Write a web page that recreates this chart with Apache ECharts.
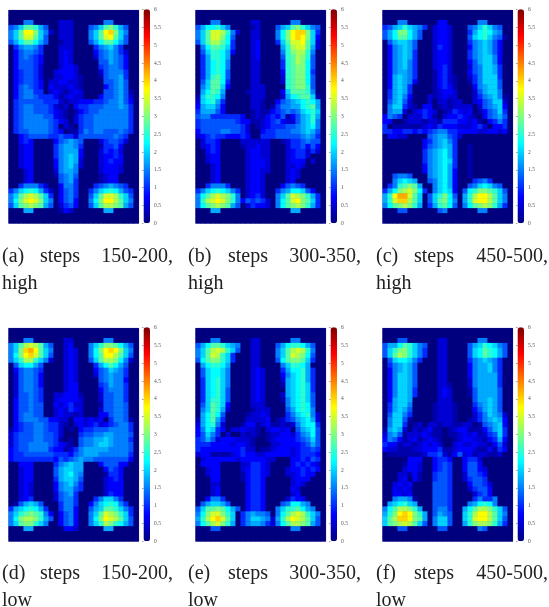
<!DOCTYPE html>
<html><head><meta charset="utf-8">
<style>html,body{margin:0;padding:0;background:#fff}#wrap{position:relative;width:549px;height:607px}#c,#t{position:absolute;left:0;top:0;width:549px;height:607px}#c{filter:blur(0.75px)}</style>
<script src="https://cdn.jsdelivr.net/npm/echarts@6/dist/echarts.min.js"></script>
</head><body><div id="wrap"><div id="c"></div><div id="t"></div></div>
<script>
// each character is one cell: base-36 digit x 0.25 = activation value
const e='00000000000000000000000000';
const panelA=[e,e,
'00066000002220000006600000','568bba750022200056 8bca7500','68bffc862022200068bfgc8600','68beeb850022200068befb8500',
'579bb9750012200057 9bb97500','04677640002220000467864000','03566540002320000356764200','03565430002320000256765300',
'03555430002320000055765300','03555420002332000045665300','03455420023332000025666400','03455420022332100015667400',
'03455430223322100005567500','03565430322232100003567500','03566440232123200005567510','03566544431232200035567520',
'04555554442122333445667530','04566555421203445556667640','04566555432101345566666640','04566665532102455666666640',
'04566666543202455666666640','04566666540210455666666640','04556666543011465665556540','00345555445442555555565400',
'00343000035676500024554200','00233000046776400014453000','00233000046777300024342000','00233000046787300023343000',
'00233000036787200023433000','00233000036786200023332000','00023000026776000023332000','00023000015675000012330000',
'00023000005674000012330000','00466642003664000456765400','46 89a974203564004689a97540','68bdedb84035640058beeda850',
'69cefec86035630069cffdb860','58bcdcb75024530058bddcb750','00077000001320000007700000',e,e];
const panelB=[e,e,
'00066000000220000006600000','5799a86000012000578bca8650','68beeda62002200069cfggc840','68beec950002200069cfgfc830',
'58bddb940002300048beefb820','069bba840002300007adeeb720','058aa9730002300006acdda600','047aa9700002300005abdca500',
'0479a9600002200004abdc9500','0479a9600002200004abcc9500','0479a9500002200003abcc9400','047ab9500002200002abcc9500',
'058bb9400002200002abcc9500','068bb8300002220000abcca500','079ba70000122200038bbba600','18aa9600000222000279abb810',
'289a740000022100356789a970','3788630000022101466779ab70','47775300000121134565689a80','56644444430121343513578a70',
'45555555433112345322578a60','45555555542012344455678960','35555665542003445556678750','23454433343004445555567640',
'02443000022222200124456550','02343000012232200024453530','00343000002332200023442420','00233000002332200023442000',
'00233000002333200023330200','00023000002333200022320000','00023000002332200023200000','00023000002332000023200000',
'00023000002332000023000000','00466640002332000356540000','4689a986402332004679985300','69bdedca6023420068bedca740',
'6adefeca6354542069befcb840','69bcdcb75024332069bcdca740','00077000000000000007700000',e,e];
const panelC=[e,e,
'00066000000330000006600000','4578a876402332000568a86500','579cc975002332000479a97600','579bb975002332000589a86510',
'05788750002332000467875300','03678750002432000367875300','03678740002332000467875300','03678740002332000467886300',
'03678640002332000357886300','03678640002342000256887400','03677640001342000356887400','03787640001342100246888400',
'03787630001342100146888500','03787400001343100036788500','04787400001233200025788600','04786300021232200024678610',
'05785200020221220023568820','06884210330121222202567830','06772023432012432301356840','36540222431023343210356750',
'33001222122144433231034640','40111111232433322234203340','44334434345664433332233230','03322000056775420000000000',
'00000000346786400000000000','00000000356787400100000000','00000000467897400100000000','00000000467897400100000000',
'00000000467898400100000000','00000000367897400100000000','00000000367897300100000000','00566500067897300100000000',
'00689870056897300045640000','046abcb7006897300568986500','479cdec94068983059accba850','7afhheb8058ac9507adffdb860',
'7aeggdb8058bc9607aeffdb860','69bcdca7047ab95069bcdca740','00055000000560000006600000',e,e];
const panelD=[e,e,
'00066000000220000006600000','68bdedb75002300068accb9750','68cghfb86002320069cfgfc860','69cfgeb85002320069bffdb850',
'68adda862002320058bddc9620','05899750000232000479b97500','03566540000232000356876400','02566530000232000256766400',
'02566530000232000056766300','02566530000233000045766400','02566540000233000035666400','02556540022333100025566400',
'03556540023333200025566400','03556550032342200015566500','03556550023243200025566500','03566550023221200033566500',
'03566655332203323230466510','03455665442102323423456640','13455665442010344555666640','24555665542000455667766650',
'24555665541010566778766640','24556666543210566788766650','34556666433124677777666650','34455555544435677766666640',
'34444444435456766555555530','00333000046787700035553300','00233000057887700003543000','00233000057897600001443000',
'00233000047887500002343000','00232000036786400002333000','00232000036775400002333000','00232000025674000002433000',
'00234000025664000468864000','01578750004664003689a96400','4789a97400466300578bba8640','68abcba63035630068bedca840',
'69cddca75035630069cfedb850','68bcca860035630068adca9750','00077000000332000007700000',e,e];
const panelE=[e,e,
'00066000000220000006600000','579bba8760022000579aa97500','68bdeda85002200068bdeda600','68beda840002200068bedc9500',
'59bcca840002200059bccb8400','079aa97000022000068aa97000','058998600002320004799a7400','058998600002320003689a7400',
'0489a8600002320002789a7400','0489a8600002320001789a8400','0489a8500002320000789a8400','0489a8500002320002789a8500',
'048aa8500002320001689a8500','058ba8300002220000689a9500','068ba7200001222000579a9600','079b950000122320004689a620',
'179b7400002222301245789720','279a6200013312311212689940','36984302232210233230578950','35864020021210122332467950',
'45752333222100123333456850','44433332332100022333345750','43333333342201123332344540','23311112343322333332344430',
'02333333233333220003343540','03333000022443200003434320','00233000023443200023343430','00233000013443200022343300',
'00033000013443000002333000','00022000003443000002320000','00023000003443000003200000','00023000003443000002300000',
'00366400003443000024330000','05788750003443000569976000','58bbcb975034430068aab97600','69ceeca80467665069bdeda860',
'7adfgeb8046887627adfedb850','69bdeca70467764269bddcb750','00055000000000000006600000',e,e];
const panelF=[e,e,
'00055000000220000006600000','5779ba86500220000578a98650','58acca86400220000589ba9750','58bdca86400220000589ba9750',
'05899864000220000467876400','04678750000220000367786400','03678750000220000367786400','03688750000220000367777400',
'03688750000220000267777400','03688750000221000267777400','03688740000232000157777500','03688740000232000157777500',
'03788700000222000057787500','04788600001222100046787500','04787500001222100035787500','05886400001222100024687620',
'06885100001222100124678730','06884012022122112201567830','17872021231101233111357840','26751222321101123231245840',
'36531231232100123322134730','43312212323200232232213520','32211122333411233321131430','01111111244521352312211200',
'00000333003443003442000000','00001332003454003553000000','00002332003454003553200000','00022131004554002554300000',
'00023031004554002455400000','00232300005554000355420000','00323200005554000245530000','00332300005554000024530000',
'00677610005554000046446000','0789a870005554000679a96000','69bddca70056640079bddca850','7acfgfca705765008adffdb860',
'8bdggfcb706885008aeffdb850','8bcdedb8506885007acddca740','00055000000550000006500000',e,e];

const panels=[panelA,panelB,panelC,panelD,panelE,panelF];
const labels=['(a)','(b)','(c)','(d)','(e)','(f)'];
const steps=['150-200,','300-350,','450-500,','150-200,','300-350,','450-500,'];
const levels=['high','high','high','low','low','low'];
const jet=['#00007f','#0000ff','#007fff','#00ffff','#7fff7f','#ffff00','#ff7f00','#ff0000','#7f0000'];
const panelLeft=[8.7,195.7,382.7], barLeft=[143.5,330.5,517.5], rowTop=[10.3,328.3];
const capLeft=[2,188,376], stepLeft=[40,228,414], capRight=[173,361,548], capTop=[247,564];

const cols=[...Array(26).keys()].map(String), rows=[...Array(43).keys()].map(String);
const grid=[],xAxis=[],yAxis=[],series=[],visualMap=[],graphic=[];
const gridT=[],xT=[],yT=[];
panels.forEach((p,i)=>{
  const c=i%3,r=Math.floor(i/3),top=rowTop[r];
  const data=[];
  p.forEach((row,y)=>{const s=row.replace(/ /g,'').padEnd(26,'0');for(let x=0;x<26;x++)data.push([x,y,parseInt(s[x],36)*0.25]);});
  grid.push({left:panelLeft[c],top:top,width:130,height:213,show:true,backgroundColor:'#00007f',borderColor:'#9a9ad2',borderWidth:1});
  xAxis.push({type:'category',data:cols,gridIndex:i,show:false});
  yAxis.push({type:'category',data:rows,gridIndex:i,inverse:true,show:false});
  series.push({type:'heatmap',xAxisIndex:i,yAxisIndex:i,data:data,progressive:0,silent:true,emphasis:{disabled:true}});
  visualMap.push({type:'continuous',seriesIndex:i,min:0,max:6,left:barLeft[c],top:top-1,itemWidth:6.5,itemHeight:214,padding:0,calculable:false,hoverLink:false,text:null,inRange:{color:jet}});
  gridT.push({left:barLeft[c],top:top-0.6,width:6.5,height:213.6,show:false});
  xT.push({type:'value',gridIndex:i,show:false,min:0,max:1});
  yT.push({type:'value',gridIndex:i,position:'right',min:0,max:6,interval:0.5,splitLine:{show:false},axisLine:{show:false},
    axisTick:{show:true,inside:true,length:1.5,lineStyle:{color:'#444',width:0.5}},
    axisLabel:{fontSize:5.5,color:'#555',margin:4,fontFamily:'Liberation Serif'}});
  const font='20px "Liberation Serif"',col='#222';
  graphic.push({type:'text',left:capLeft[c],top:capTop[r],style:{text:labels[i],font,fill:col}});
  graphic.push({type:'text',left:stepLeft[c],top:capTop[r],style:{text:'steps',font,fill:col}});
  graphic.push({type:'text',right:549-capRight[c],top:capTop[r],style:{text:steps[i],font,fill:col}});
  graphic.push({type:'text',left:capLeft[c],top:capTop[r]+27,style:{text:levels[i],font,fill:col}});
});
const chart=echarts.init(document.getElementById('c'));
chart.setOption({animation:false,grid,xAxis,yAxis,series,visualMap});
const overlay=echarts.init(document.getElementById('t'));
overlay.setOption({animation:false,grid:gridT,xAxis:xT,yAxis:yT,graphic});
</script></body></html>
